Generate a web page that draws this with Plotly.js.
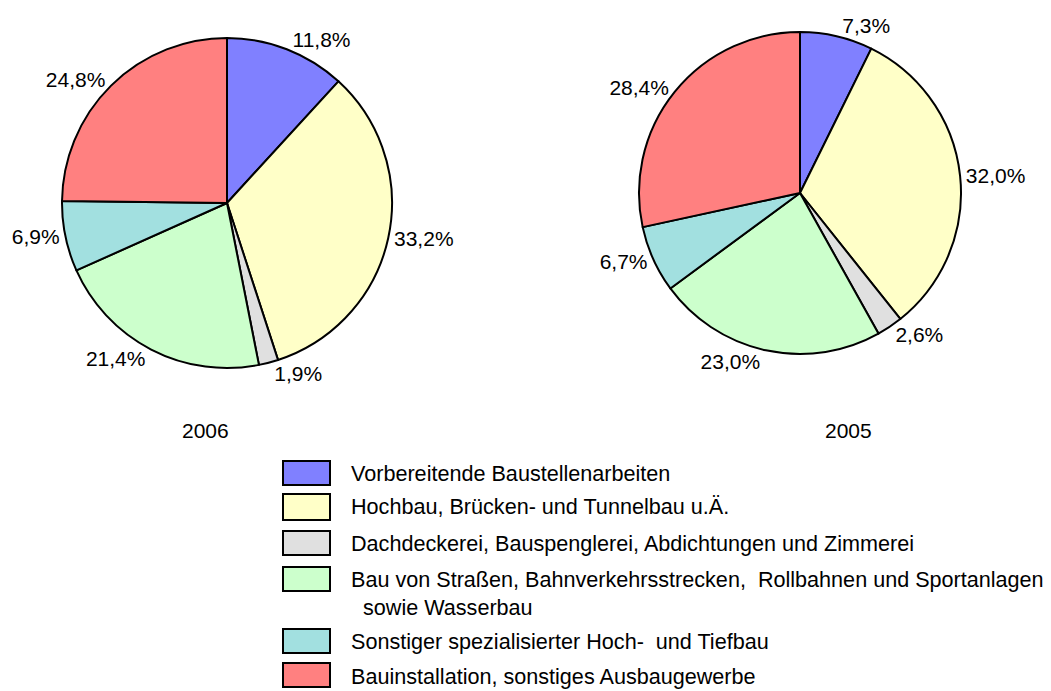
<!DOCTYPE html>
<html><head><meta charset="utf-8">
<script src="https://cdn.plot.ly/plotly-3.0.1.min.js"></script>
<style>html,body{margin:0;padding:0;background:#fff}#chart{width:1051px;height:691px}</style>
</head><body><div id="chart"></div>
<script>
const categories = [
  "Vorbereitende Baustellenarbeiten",
  "Hochbau, Brücken- und Tunnelbau u.Ä.",
  "Dachdeckerei, Bauspenglerei, Abdichtungen und Zimmerei",
  "Bau von Straßen, Bahnverkehrsstrecken,  Rollbahnen und Sportanlagen<br>  sowie Wasserbau",
  "Sonstiger spezialisierter Hoch-  und Tiefbau",
  "Bauinstallation, sonstiges Ausbaugewerbe"
];
const values2006 = [11.8, 33.2, 1.9, 21.4, 6.9, 24.8];
const values2005 = [7.3, 32.0, 2.6, 23.0, 6.7, 28.4];
const yearLabels = ["2006", "2005"];
const colors = ["#8080FF", "#FFFFC8", "#E0E0E0", "#CCFFCC", "#A2E0E0", "#FF8080"];

const W = 1051, H = 691;
const px = x => x / W;
const py = y => 1 - y / H;
const fmt = v => v.toFixed(1).replace('.', ',') + '%';
const font = {family: "Liberation Sans, Arial, sans-serif", size: 21, color: "#000"};
const legendFont = {family: "Liberation Sans, Arial, sans-serif", size: 21.6, color: "#000"};

function pie(vals, x0, x1, y0, y1) {
  return {
    type: 'pie', values: vals, labels: categories, sort: false, direction: 'clockwise',
    rotation: 0, text: vals.map(fmt), textinfo: 'text', textposition: 'outside',
    textfont: font, hoverinfo: 'skip', showlegend: false,
    marker: {colors: colors, line: {color: '#000', width: 2}},
    domain: {x: [px(x0), px(x1)], y: [py(y1), py(y0)]}
  };
}
const data = [
  pie(values2006, 62, 392, 38, 368),
  pie(values2005, 639, 961, 32, 354)
];

const annotations = [
  {text: yearLabels[0], x: px(205), y: py(430)},
  {text: yearLabels[1], x: px(848), y: py(430)}
].map(a => Object.assign(a, {xref: 'paper', yref: 'paper', showarrow: false, xanchor: 'center', yanchor: 'middle', font: font}));

const boxes = [[461, 485], [494, 520], [531, 555], [567, 591], [629, 653], [663, 687]];
const textY = [473, 507, 543, 593, 641, 676];
const shapes = [];
categories.forEach((c, i) => {
  shapes.push({type: 'rect', xref: 'paper', yref: 'paper', x0: px(283), x1: px(330),
    y0: py(boxes[i][1]), y1: py(boxes[i][0]), fillcolor: colors[i], line: {color: '#000', width: 2}});
  annotations.push({text: c, xref: 'paper', yref: 'paper', x: px(349), y: py(textY[i]),
    xanchor: 'left', yanchor: 'middle', align: 'left', showarrow: false, font: legendFont});
});

const layout = {
  width: W, height: H, margin: {l: 0, r: 0, t: 0, b: 0},
  paper_bgcolor: '#fff', showlegend: false, annotations: annotations, shapes: shapes
};
Plotly.newPlot('chart', data, layout, {displayModeBar: false, staticPlot: true});
</script></body></html>
